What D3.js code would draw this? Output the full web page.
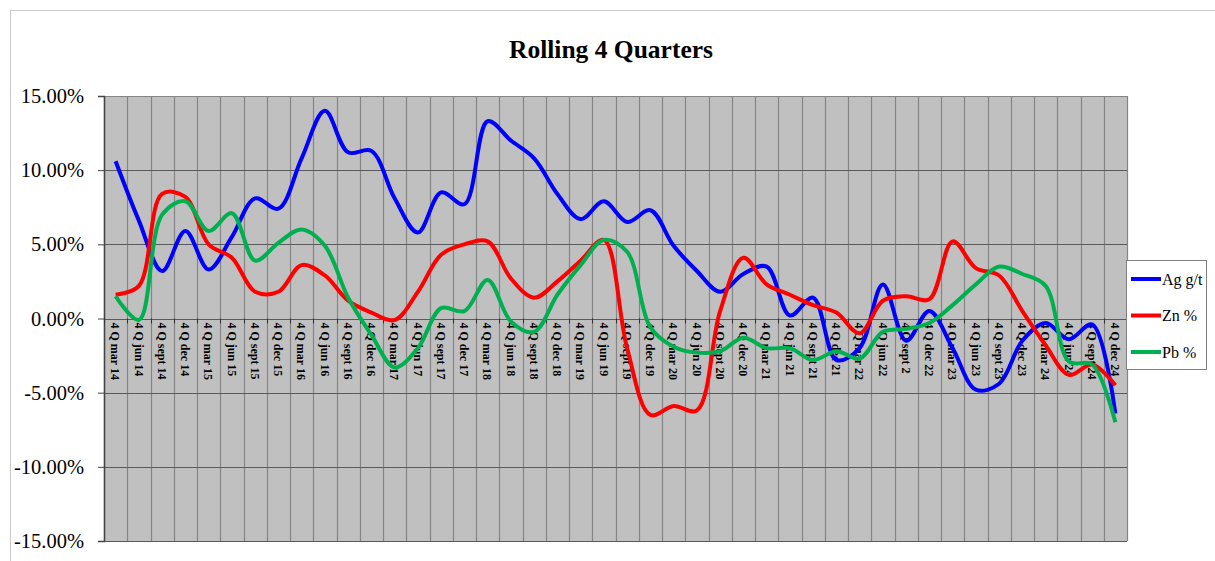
<!DOCTYPE html>
<html>
<head>
<meta charset="utf-8">
<script src="https://cdn.jsdelivr.net/npm/d3@7"></script>
<style>
  html, body { margin: 0; padding: 0; background: #fff; }
  svg { display: block; }
  text { font-family: "Liberation Serif", "DejaVu Serif", serif; fill: #000; }
</style>
</head>
<body>
<svg id="chart" width="1215" height="561"></svg>
<script>
// quarter labels (as on the original axis)
var quarters = [
  "4 Q mar 14", "4 Q jun 14", "4 Q sept 14", "4 Q dec 14",
  "4 Q mar 15", "4 Q jun 15", "4 Q sept 15", "4 Q dec 15",
  "4 Q mar 16", "4 Q jun 16", "4 Q sept 16", "4 Q dec 16",
  "4 Q mar 17", "4 Q jun 17", "4 Q sept 17", "4 Q dec 17",
  "4 Q mar 18", "4 Q jun 18", "4 Q sept 18", "4 Q dec 18",
  "4 Q mar 19", "4 Q jun 19", "4 Q sept 19", "4 Q dec 19",
  "4 Q mar 20", "4 Q jun 20", "4 Q sept 20", "4 Q dec 20",
  "4 Q mar 21", "4 Q jun 21", "4 Q sept 21", "4 Q dec 21",
  "4 Q mar 22", "4 Q jun 22", "4 Q sept 2", "4 Q dec 22",
  "4 Q mar 23", "4 Q jun 23", "4 Q sept 23", "4 Q dec 23",
  "4 Q mar 24", "4 Q jun 24", "4 Q sept 24", "4 Q dec 24"
];

// values in percent
var agValues = [10.6, 6.6, 3.2, 5.9, 3.3, 5.5, 8.1, 7.4, 10.8, 14.0, 11.2,
  11.3, 8.1, 5.8, 8.5, 7.7, 13.3, 12.0, 10.8, 8.4, 6.7, 7.9,
  6.5, 7.3, 4.9, 3.2, 1.8, 3.0, 3.5, 0.2, 1.4, -2.8, -2.0,
  2.3, -1.5, 0.5, -2.0, -4.8, -4.4, -1.5, -0.3, -1.4, -0.4, -6.4];
var znValues = [1.6, 2.2, 8.4, 8.2, 5.0, 4.1, 1.8, 1.8, 3.6, 2.9, 1.2,
  0.4, -0.1, 1.8, 4.3, 5.0, 5.2, 2.7, 1.4, 2.5, 3.9, 5.3,
  -2.0, -6.5, -5.9, -6.2, 0.5, 4.1, 2.3, 1.6, 0.9, 0.4, -1.0,
  1.2, 1.5, 1.3, 5.2, 3.4, 2.9, 0.5, -1.8, -3.8, -3.1, -4.5];
var pbValues = [1.5, -0.1, 7.0, 7.9, 5.9, 7.1, 3.9, 5.1, 6.0, 4.9, 1.4,
  -1.1, -3.3, -2.0, 0.7, 0.5, 2.6, -0.2, -0.9, 1.6, 3.6, 5.3,
  4.5, -0.6, -1.9, -2.3, -2.2, -1.3, -2.0, -2.0, -2.8, -2.2, -2.7,
  -0.9, -0.7, -0.3, 0.9, 2.3, 3.5, 3.0, 2.2, -2.9, -3.1, -7.0];

var seriesNames = ["Ag g/t", "Zn %", "Pb %"];
var seriesColors = ["#0000ff", "#ff0000", "#00b050"];
var yTicks = [-15, -10, -5, 0, 5, 10, 15];

var series = [agValues, znValues, pbValues].map(function (vals, i) {
  return { name: seriesNames[i], color: seriesColors[i], values: vals };
});

var serif = "'Liberation Serif', 'DejaVu Serif', serif";
var svg = d3.select("#chart");
var plot = { left: 104, right: 1127, top: 96, bottom: 541 };

// outer chart frame
svg.append("rect")
  .attr("x", 10.5).attr("y", 10.5)
  .attr("width", 1215).attr("height", 561)
  .attr("fill", "none").attr("stroke", "#c8c8c8");

svg.append("text")
  .attr("x", 611).attr("y", 58)
  .attr("text-anchor", "middle")
  .style("font-family", serif)
  .style("font-size", "25.5px").style("font-weight", "bold")
  .text("Rolling 4 Quarters");

var x = d3.scaleBand().domain(quarters).range([plot.left, plot.right]).padding(0);
var y = d3.scaleLinear().domain([-15, 15]).range([plot.bottom, plot.top]);
var xc = function (d) { return x(d) + x.bandwidth() / 2; };

svg.append("rect")
  .attr("x", plot.left).attr("y", plot.top)
  .attr("width", plot.right - plot.left).attr("height", plot.bottom - plot.top)
  .attr("fill", "#c0c0c0");

// vertical grid at category boundaries
var bounds = quarters.map(function (q) { return x(q); }).concat([plot.right]);
svg.append("g").selectAll("line").data(bounds).enter().append("line")
  .attr("x1", function (d) { return Math.round(d) + 0.5; })
  .attr("x2", function (d) { return Math.round(d) + 0.5; })
  .attr("y1", plot.top).attr("y2", plot.bottom)
  .attr("stroke", "#858585").attr("stroke-width", 1.2);

// horizontal grid
svg.append("g").selectAll("line").data(yTicks).enter().append("line")
  .attr("x1", plot.left).attr("x2", plot.right)
  .attr("y1", function (d) { return Math.round(y(d)) + 0.5; })
  .attr("y2", function (d) { return Math.round(y(d)) + 0.5; })
  .attr("stroke", "#5a5a5a").attr("stroke-width", 1.2);

// top border of plot
svg.append("line")
  .attr("x1", plot.left).attr("x2", plot.right)
  .attr("y1", plot.top + 0.5).attr("y2", plot.top + 0.5)
  .attr("stroke", "#858585");

// y axis
var yAxis = svg.append("g")
  .attr("transform", "translate(" + plot.left + ",0)")
  .call(d3.axisLeft(y).tickValues(yTicks).tickSize(6).tickPadding(14)
    .tickFormat(function (d) { return d.toFixed(2) + "%"; }));
yAxis.attr("font-family", null);
yAxis.select(".domain").attr("stroke", "#444").attr("stroke-width", 1.5);
yAxis.selectAll(".tick line").attr("stroke", "#444");
yAxis.selectAll("text")
  .style("font-family", serif)
  .style("font-size", "20.5px").attr("fill", "#000");

// category axis on the zero line
var y0 = y(0);
svg.append("g").selectAll("line").data(bounds).enter().append("line")
  .attr("x1", function (d) { return Math.round(d) + 0.5; })
  .attr("x2", function (d) { return Math.round(d) + 0.5; })
  .attr("y1", y0).attr("y2", y0 + 5)
  .attr("stroke", "#333");

svg.append("g").selectAll("text").data(quarters).enter().append("text")
  .attr("transform", function (d) { return "translate(" + xc(d) + "," + (y0 + 4) + ") rotate(90)"; })
  .attr("dy", "0.35em")
  .style("font-family", serif)
  .style("font-size", "12px").style("font-weight", "bold")
  .text(function (d) { return d; });

// lines
var line = d3.line()
  .x(function (d, i) { return xc(quarters[i]); })
  .y(function (d) { return y(d); })
  .curve(d3.curveCatmullRom.alpha(0.5));

svg.append("g").selectAll("path").data(series).enter().append("path")
  .attr("d", function (s) { return line(s.values); })
  .attr("fill", "none")
  .attr("stroke", function (s) { return s.color; })
  .attr("stroke-width", 4)
  .attr("stroke-linejoin", "round");

// legend
var legend = svg.append("g").attr("transform", "translate(1126,260)");
legend.append("rect")
  .attr("x", 0.5).attr("y", 0.5).attr("width", 80).attr("height", 109)
  .attr("fill", "#fff").attr("stroke", "#808080");
var item = legend.selectAll("g.item").data(series).enter().append("g")
  .attr("class", "item")
  .attr("transform", function (d, i) { return "translate(0," + (19 + i * 36.5) + ")"; });
item.append("line")
  .attr("x1", 5).attr("x2", 35).attr("y1", 0).attr("y2", 0)
  .attr("stroke", function (d) { return d.color; }).attr("stroke-width", 4);
item.append("text")
  .attr("x", 36).attr("dy", "0.35em")
  .style("font-family", serif)
  .style("font-size", "16px")
  .text(function (d) { return d.name; });
</script>
</body>
</html>
